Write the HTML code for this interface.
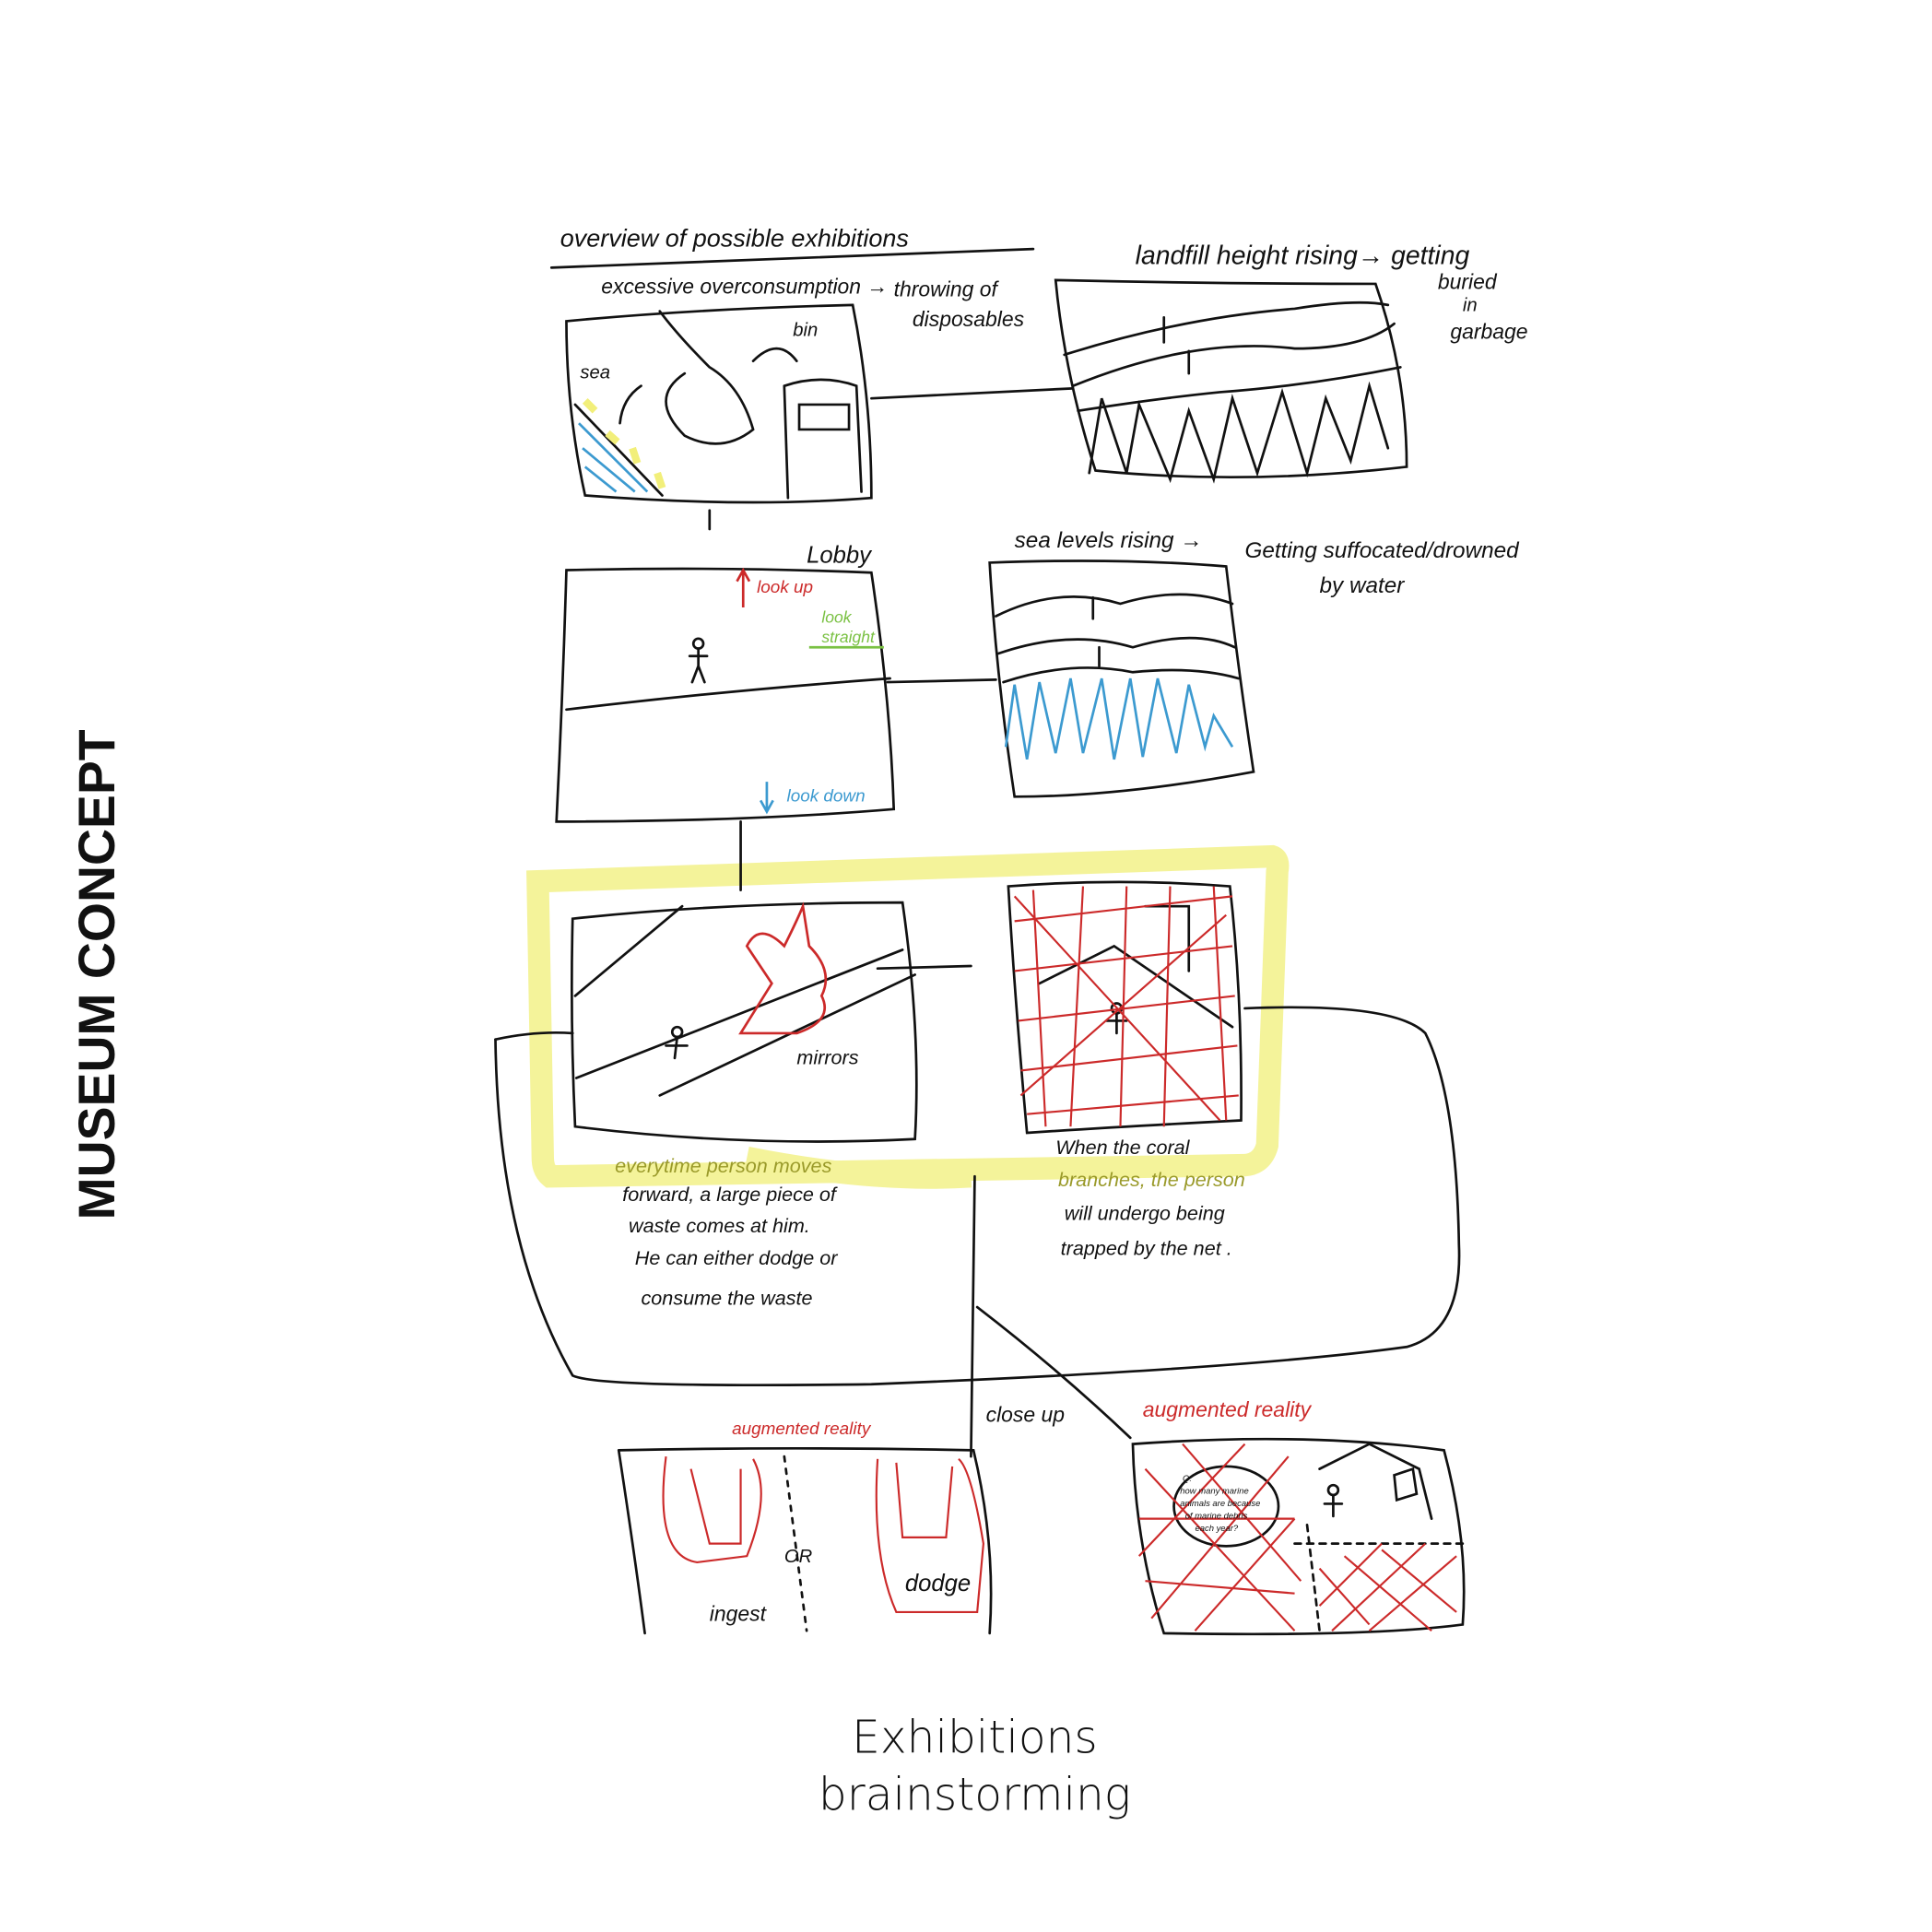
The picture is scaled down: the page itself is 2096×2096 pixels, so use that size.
<!DOCTYPE html>
<html><head><meta charset="utf-8">
<style>
html,body{margin:0;padding:0;background:#fff;}
svg{display:block;}
.h{font-family:"Liberation Sans",sans-serif;font-style:italic;fill:#111;}
</style></head>
<body>
<svg width="2096" height="2096" viewBox="0 0 1552 1552" xmlns="http://www.w3.org/2000/svg">
<rect width="1552" height="1552" fill="#fff"/>
<text transform="translate(92,783) rotate(-90)" text-anchor="middle" font-family="Liberation Sans,sans-serif" font-weight="bold" font-size="41" fill="#111">MUSEUM CONCEPT</text>
<text x="783" y="1408" text-anchor="middle" font-family="DejaVu Sans,sans-serif" font-weight="300" font-size="36" fill="#111">Exhibitions</text>
<text x="783" y="1454" text-anchor="middle" font-family="DejaVu Sans,sans-serif" font-weight="300" font-size="36" fill="#111">brainstorming</text>

<!-- yellow highlight -->
<path d="M432,708 L1022,688 Q1028,690 1026,700 L1018,920 Q1014,935 1000,936 L442,945 Q436,940 436,930 Z" fill="none" stroke="#f4f39a" stroke-width="18"/>
<path d="M600,930 Q700,950 780,945" stroke="#f4f39a" stroke-width="18" fill="none"/>

<g fill="none" stroke="#111" stroke-width="2" stroke-linecap="round">
<path d="M443,215 L830,200"/>
<path d="M455,258 Q560,248 685,245 Q700,320 700,400 Q600,408 470,398 Q455,330 455,258 Z"/>
<path d="M630,310 Q660,300 688,310 L692,395 M630,310 L633,400 M642,325 L682,325 L682,345 L642,345 Z"/>
<path d="M550,300 Q520,320 550,350 Q580,365 605,345 Q595,310 570,295 Q545,270 530,250"/>
<path d="M515,310 Q500,320 498,340 M640,290 Q625,270 605,290"/>
<path d="M462,325 L532,398"/>
<path d="M570,425 L570,410"/>
<path d="M700,320 L862,312"/>
<path d="M848,225 Q980,228 1105,228 Q1130,300 1130,375 Q1000,390 880,378 Q855,300 848,225 Z"/>
<path d="M855,285 Q950,255 1040,248 Q1090,240 1115,245"/>
<path d="M862,310 Q960,270 1040,280 Q1095,280 1120,260"/>
<path d="M866,330 Q930,320 980,315 Q1050,310 1125,295"/>
<path d="M935,275 L935,255 M955,300 L955,282"/>
<path d="M875,380 L885,320 L905,380 L915,325 L940,385 L955,330 L975,385 L990,320 L1010,380 L1030,315 L1050,380 L1065,320 L1085,370 L1100,310 L1115,360"/>
<path d="M455,458 Q580,455 700,460 Q715,560 718,650 Q600,660 447,660 Q452,560 455,458 Z"/>
<path d="M455,570 Q580,555 715,545"/>
<path d="M713,548 L800,546"/>
<circle cx="561" cy="517" r="4"/>
<path d="M561,521 L561,535 L556,548 M561,535 L566,548 M554,527 L568,527"/>
<path d="M595,660 L595,715"/>
<path d="M795,452 Q900,448 985,455 Q995,540 1007,620 Q900,640 815,640 Q800,540 795,452 Z"/>
<path d="M800,495 Q850,470 900,485 Q950,470 990,485"/>
<path d="M802,525 Q860,505 910,520 Q960,505 992,520"/>
<path d="M806,548 Q860,530 910,540 Q960,535 995,545"/>
<path d="M878,497 L878,480 M883,535 L883,520"/>
<path d="M460,738 Q580,725 725,725 Q740,830 735,915 Q600,922 462,905 Q458,820 460,738 Z"/>
<path d="M462,800 L548,728"/>
<path d="M463,866 L725,763"/>
<path d="M530,880 L735,783"/>
<path d="M705,778 L780,776"/>
<circle cx="544" cy="829" r="4"/>
<path d="M544,833 L542,850 M535,840 L552,840"/>
<path d="M398,835 Q400,1000 460,1105 Q480,1115 700,1112 Q1000,1100 1130,1082 Q1175,1070 1172,1000 Q1170,880 1145,830 Q1120,805 1000,810"/>
<path d="M398,835 Q430,828 460,830"/>
<path d="M810,712 Q900,705 988,712 Q998,800 997,900 Q900,905 825,910 Q815,800 810,712 Z"/>
<path d="M835,790 L895,760 L990,825 M920,728 L955,728 L955,780"/>
<circle cx="897" cy="810" r="4"/>
<path d="M897,814 L897,830 M889,820 L905,820"/>
<path d="M497,1165 Q640,1162 782,1165 Q800,1240 795,1312 M497,1165 Q510,1250 518,1312"/>
<path d="M630,1170 L648,1310" stroke-dasharray="4 6"/>
<path d="M783,945 L780,1170"/>
<path d="M785,1050 Q850,1100 908,1155"/>
<path d="M910,1160 Q1050,1150 1160,1165 Q1180,1240 1175,1305 Q1100,1315 935,1312 Q912,1240 910,1160 Z"/>
<path d="M1040,1240 L1175,1240" stroke-dasharray="5 5"/>
<path d="M1050,1225 L1060,1310" stroke-dasharray="5 5"/>
<path d="M1060,1180 L1100,1160 L1140,1180 L1150,1220 M1120,1185 L1135,1180 L1138,1200 L1122,1205 Z"/>
<ellipse cx="985" cy="1210" rx="42" ry="32"/>
<circle cx="1071" cy="1197" r="4"/>
<path d="M1071,1201 L1071,1218 M1064,1208 L1078,1208"/>
</g>

<g fill="none" stroke-width="2">
<path d="M465,340 L520,395 M468,360 L510,395 M470,375 L495,395" stroke="#3c9ad0"/>
<path d="M470,322 L478,330 M488,348 L496,355 M508,360 L512,372 M528,380 L532,392" stroke="#f2ef7a" stroke-width="6"/>
<path d="M808,600 L815,550 L825,610 L835,548 L848,605 L860,545 L870,605 L885,545 L895,610 L908,545 L918,608 L930,545 L945,605 L955,550 L968,600 L975,575 L990,600" stroke="#3c9ad0"/>
<path d="M597,488 L597,460 M592,467 L597,458 L602,467" stroke="#cc2a2a"/>
<path d="M616,650 L616,628 M611,643 L616,652 L621,643" stroke="#3c9ad0"/>
<path d="M650,520 L710,520" stroke="#7ac143"/>
<path d="M600,760 Q610,740 630,760 Q640,740 645,728 L650,760 Q670,780 660,800 Q670,820 640,830 Q610,830 595,830 L620,790 Z" stroke="#cc2a2a"/>
<g stroke="#cc2a2a" stroke-width="1.6">
<path d="M815,740 L990,720 M815,780 L990,760 M818,820 L992,800 M820,860 L994,840 M825,895 L995,880"/>
<path d="M830,715 L840,905 M870,712 L860,905 M905,712 L900,905 M940,712 L935,905 M975,712 L985,900"/>
<path d="M815,720 L980,900 M820,880 L985,735"/>
<path d="M535,1170 Q525,1250 560,1255 L600,1250 Q620,1200 605,1172 M555,1180 L570,1240 L595,1240 L595,1180" />
<path d="M705,1172 Q700,1250 720,1295 L785,1295 L790,1240 Q780,1180 770,1172 M720,1175 L725,1235 L760,1235 L765,1178"/>
<path d="M920,1180 L1040,1310 M950,1160 L1045,1270 M915,1250 L1000,1160 M925,1300 L1035,1170 M960,1310 L1040,1220 M915,1220 L1040,1220 M920,1270 L1040,1280"/>
<path d="M1060,1290 L1110,1240 M1070,1310 L1145,1240 M1100,1310 L1170,1250 M1080,1250 L1150,1310 M1110,1245 L1170,1295 M1060,1260 L1100,1305"/>
</g>
</g>

<g class="h">
<text x="450" y="198" font-size="20">overview of possible exhibitions</text>
<text x="483" y="236" font-size="17">excessive overconsumption →</text>
<text x="718" y="238" font-size="17">throwing of</text>
<text x="733" y="262" font-size="17">disposables</text>
<text x="637" y="270" font-size="15">bin</text>
<text x="466" y="304" font-size="15">sea</text>
<text x="912" y="212" font-size="21">landfill height rising→ getting</text>
<text x="1155" y="232" font-size="17">buried</text>
<text x="1175" y="250" font-size="15">in</text>
<text x="1165" y="272" font-size="17">garbage</text>
<text x="815" y="440" font-size="18">sea levels rising →</text>
<text x="1000" y="448" font-size="18">Getting suffocated/drowned</text>
<text x="1060" y="476" font-size="18">by water</text>
<text x="648" y="452" font-size="19">Lobby</text>
<text x="608" y="476" font-size="14" fill="#cc2a2a">look up</text>
<text x="660" y="500" font-size="13" fill="#7ac143">look</text>
<text x="660" y="516" font-size="13" fill="#7ac143">straight</text>
<text x="632" y="644" font-size="14" fill="#3c9ad0">look down</text>
<text x="640" y="855" font-size="16">mirrors</text>
<text x="494" y="942" font-size="16" fill="#9a9a2a">everytime person moves</text>
<text x="500" y="965" font-size="16">forward, a large piece of</text>
<text x="505" y="990" font-size="16">waste comes at him.</text>
<text x="510" y="1016" font-size="16">He can either dodge or</text>
<text x="515" y="1048" font-size="16">consume the waste</text>
<text x="848" y="927" font-size="16">When the coral</text>
<text x="850" y="953" font-size="16" fill="#9a9a2a">branches, the person</text>
<text x="855" y="980" font-size="16">will undergo being</text>
<text x="852" y="1008" font-size="16">trapped by the net .</text>
<text x="588" y="1152" font-size="14" fill="#cc2a2a">augmented reality</text>
<text x="918" y="1138" font-size="17" fill="#cc2a2a">augmented reality</text>
<text x="792" y="1142" font-size="17">close up</text>
<text x="570" y="1302" font-size="17">ingest</text>
<text x="630" y="1255" font-size="15">OR</text>
<text x="727" y="1278" font-size="19">dodge</text>
<text x="950" y="1190" font-size="7">Q:</text>
<text x="948" y="1200" font-size="7">how many marine</text>
<text x="948" y="1210" font-size="7">animals are because</text>
<text x="952" y="1220" font-size="7">of marine debris</text>
<text x="960" y="1230" font-size="7">each year?</text>
</g>
</svg>
</body></html>
